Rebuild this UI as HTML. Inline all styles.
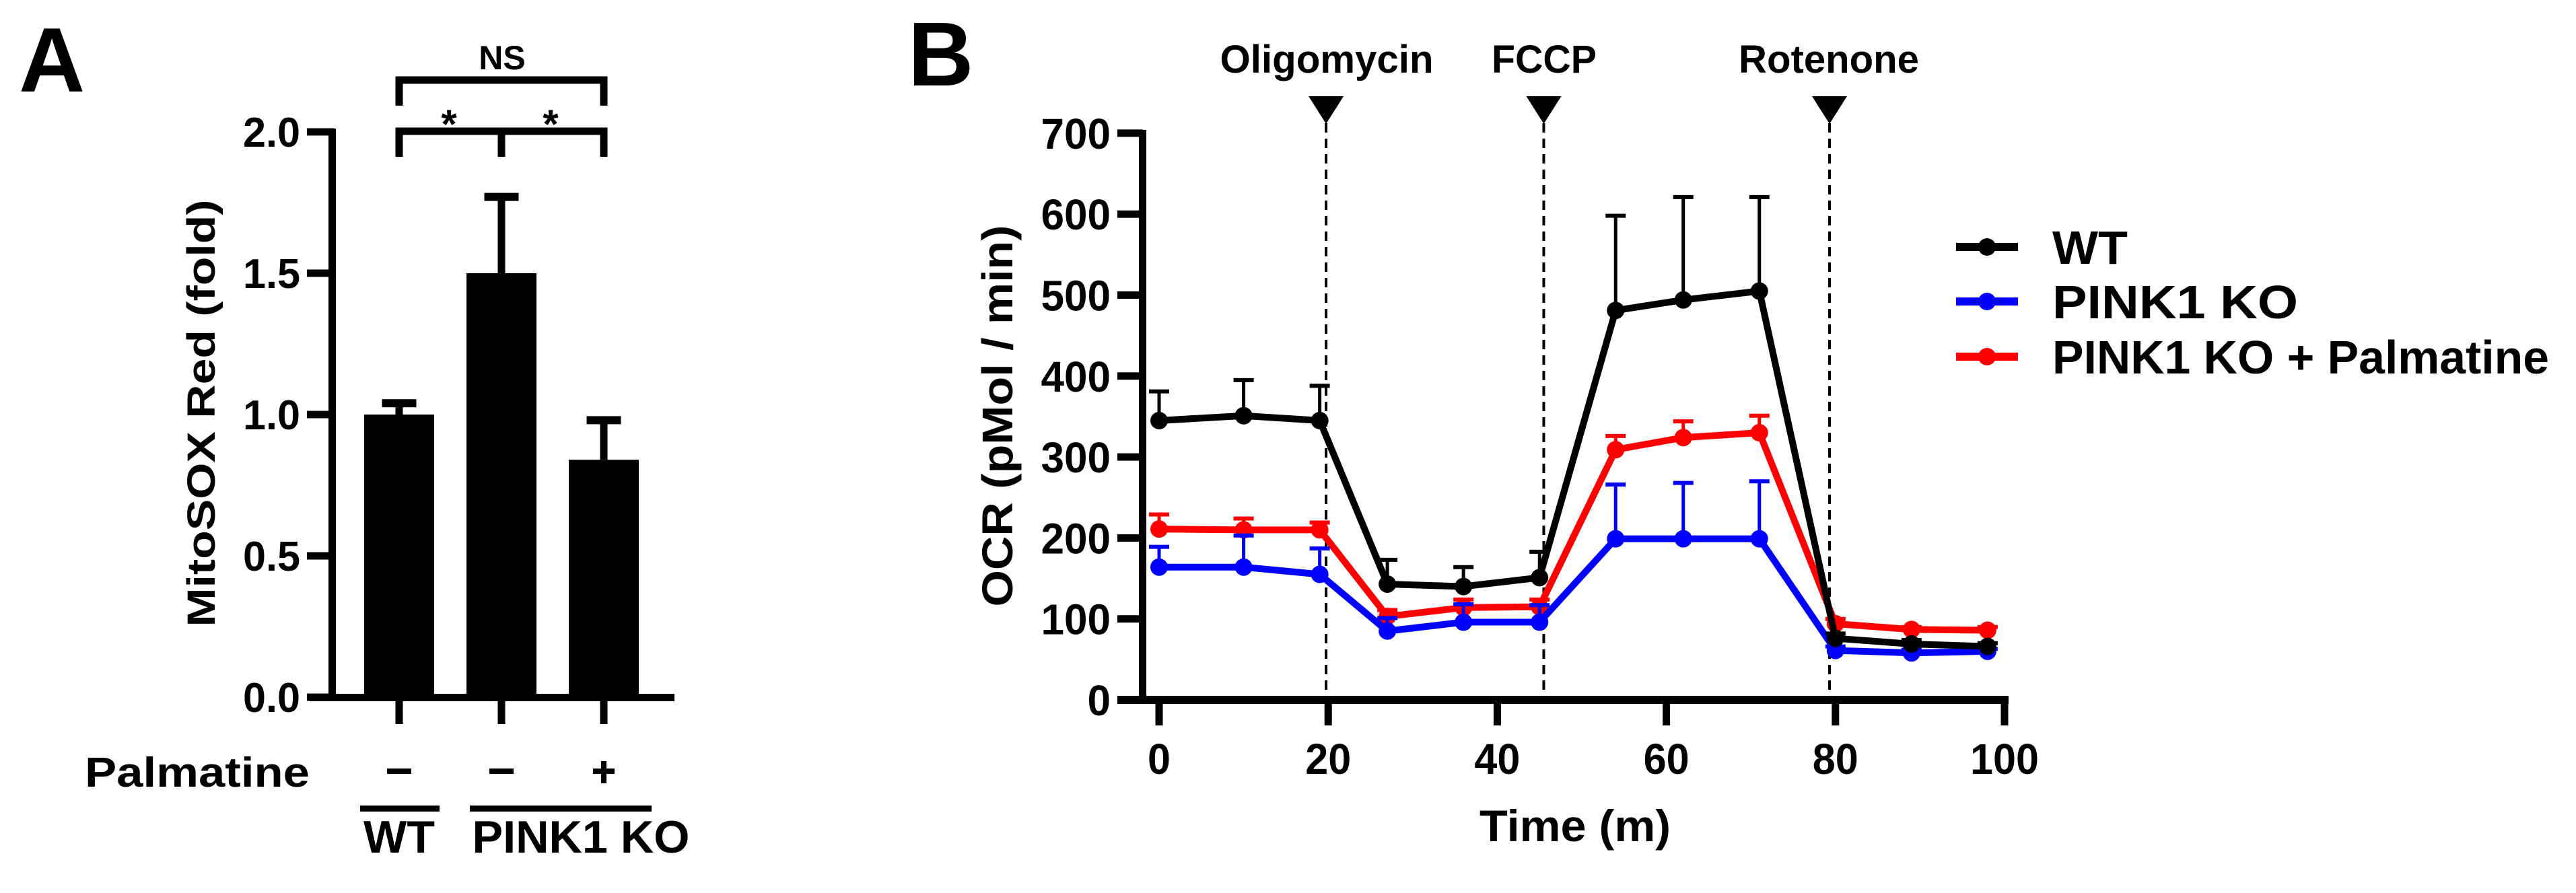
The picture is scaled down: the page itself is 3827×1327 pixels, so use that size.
<!DOCTYPE html>
<html><head><meta charset="utf-8"><style>
html,body{margin:0;padding:0;background:#fff;}
svg{display:block;}
text{font-family:"Liberation Sans",Arial,sans-serif;font-weight:bold;fill:#000;}
</style></head><body>
<svg id="fig" width="3827" height="1327" viewBox="0 0 3827 1327" xmlns="http://www.w3.org/2000/svg">
<g id="panelA"></g>
<g id="panelB"></g>
</svg>
<script>
// ---------- Panel A data ----------
const aCategories = ["WT", "PINK1 KO", "PINK1 KO + Palmatine"];
const aValues = [1.0, 1.5, 0.84];
const aErrors = [0.04, 0.27, 0.14];
const aTicks = [0, 0.5, 1.0, 1.5, 2.0];
const aTickLabels = ["0.0", "0.5", "1.0", "1.5", "2.0"];
const aPalmatine = ["–", "–", "+"];

// ---------- Panel B data ----------
const bTimes = [0, 10, 19, 27, 36, 45, 54, 62, 71, 80, 89, 98];
const wtMean = [345, 351, 345, 143, 140, 151, 481, 494, 505, 76, 69, 66];
const wtTop = [381, 395, 388, 173, 164, 183, 598, 621, 621, 82, 74, 70];
const koMean = [164, 164, 155, 85, 96, 96, 199, 199, 199, 61, 58, 60];
const koTop = [189, 203, 187, 101, 118, 117, 266, 268, 270, 66, 62, 63];
const palMean = [211, 210, 210, 103, 114, 115, 309, 324, 330, 94, 87, 86];
const palTop = [229, 224, 219, 111, 124, 124, 326, 344, 351, 100, 90, 90];
const bYTicks = [0, 100, 200, 300, 400, 500, 600, 700];
const bXTicks = [0, 20, 40, 60, 80, 100];
const injNames = ["Oligomycin", "FCCP", "Rotenone"];
const injTimes = [19.75, 45.5, 79.3];
const seriesNames = ["WT", "PINK1 KO", "PINK1 KO + Palmatine"];

const NS = "http://www.w3.org/2000/svg";
function el(parent, tag, attrs, txt){
  const e = document.createElementNS(NS, tag);
  for (const k in attrs) e.setAttribute(k, attrs[k]);
  if (txt !== undefined) e.textContent = txt;
  parent.appendChild(e);
  return e;
}

// ===== Panel A =====
const A = document.getElementById('panelA');
const ayScale = v => 1036 - v * 420;
const axPos = [593, 745, 897];
let t;
t = el(A, 'text', {x: 28, y: 136, 'font-size': 136});
t.textContent = 'A';



// y axis
let r = el(A, 'rect', {x: 488, y: 191, width: 11, height: 851});


// x axis
r = el(A, 'rect', {x: 460, y: 1031, width: 542, height: 11});



aTicks.forEach((v, i) => {
  const y = ayScale(v);
  const tk = el(A, 'rect', {x: 456, y: y - 5.5, width: 40, height: 11});
  
  
  const lb = el(A, 'text', {x: 446, y: y + 22, 'font-size': 62, 'text-anchor': 'end', textLength: 85, lengthAdjust: 'spacingAndGlyphs'}, aTickLabels[i]);
  
  
});

t = el(A, 'text', {x: 0, y: 0, 'font-size': 58, 'text-anchor': 'middle', textLength: 635, lengthAdjust: 'spacingAndGlyphs', transform: 'translate(319,614) rotate(-90)'}, 'MitoSOX Red (fold)');



aValues.forEach((v, i) => {
  const cx = axPos[i];
  const top = ayScale(v);
  const b = el(A, 'rect', {x: cx - 52, y: top, width: 104, height: 1036 - top});
  
  
  const et = ayScale(v + aErrors[i]);
  const w = el(A, 'rect', {x: cx - 5.5, y: et, width: 11, height: top - et});
  
  
  const c = el(A, 'rect', {x: cx - 25.5, y: et - 6, width: 51, height: 12});
  
  
  const xt = el(A, 'rect', {x: cx - 5.5, y: 1036, width: 11, height: 40});
  
  
  // palmatine signs
  if (aPalmatine[i] === '+') {
    const p1 = el(A, 'rect', {x: cx - 16, y: 1142, width: 32, height: 8});
    
    
    const p2 = el(A, 'rect', {x: cx - 4, y: 1131, width: 8, height: 33});
    
    
  } else {
    const m = el(A, 'rect', {x: cx - 18, y: 1142, width: 36, height: 8});
    
    
  }
});

t = el(A, 'text', {x: 126, y: 1169, 'font-size': 62, textLength: 334, lengthAdjust: 'spacingAndGlyphs'}, 'Palmatine');



r = el(A, 'rect', {x: 535, y: 1197, width: 118, height: 9});


r = el(A, 'rect', {x: 698, y: 1197, width: 270, height: 9});


t = el(A, 'text', {x: 593, y: 1267, 'font-size': 68, 'text-anchor': 'middle', textLength: 106, lengthAdjust: 'spacingAndGlyphs'}, 'WT');


t = el(A, 'text', {x: 863, y: 1267, 'font-size': 68, 'text-anchor': 'middle', textLength: 323, lengthAdjust: 'spacingAndGlyphs'}, 'PINK1 KO');



// significance brackets
function bracket(y, yb, xs, name){
  const g = el(A, 'g', {});
  
  
  el(g, 'rect', {x: xs[0] - 5.5, y: y - 5.5, width: xs[xs.length - 1] - xs[0] + 11, height: 11});
  xs.forEach(x => el(g, 'rect', {x: x - 5.5, y: y - 5.5, width: 11, height: yb - y + 5.5}));
}
bracket(119, 157, [axPos[0], axPos[2]], 'ns-bracket');
bracket(195, 233, axPos, 'star-bracket');
t = el(A, 'text', {x: 746, y: 103, 'font-size': 50, 'text-anchor': 'middle'}, 'NS');


[667, 818].forEach(x => {
  const s = el(A, 'text', {x: x, y: 205, 'font-size': 60, 'text-anchor': 'middle'}, '*');
  
  
});

// ===== Panel B =====
const B = document.getElementById('panelB');
const bx = tm => 1722 + tm * 12.56;
const by = v => 1040 - v * 1.203;

t = el(B, 'text', {x: 1349, y: 127, 'font-size': 135}, 'B');



r = el(B, 'rect', {x: 1692, y: 193, width: 11, height: 853});


r = el(B, 'rect', {x: 1660, y: 1034, width: 1324, height: 12});



bYTicks.forEach(v => {
  const y = by(v);
  const tk = el(B, 'rect', {x: 1660, y: y - 5.5, width: 38, height: 11});
  
  
  const lb = el(B, 'text', {x: 1650, y: y + 23, 'font-size': 64, 'text-anchor': 'end', textLength: (String(v).length * 34.5), lengthAdjust: 'spacingAndGlyphs'}, String(v));
  
  
});
bXTicks.forEach(v => {
  const x = bx(v);
  const tk = el(B, 'rect', {x: x - 5.5, y: 1040, width: 11, height: 38});
  
  
  const lb = el(B, 'text', {x: x, y: 1150, 'font-size': 64, 'text-anchor': 'middle', textLength: (String(v).length * 34), lengthAdjust: 'spacingAndGlyphs'}, String(v));
  
  
});

t = el(B, 'text', {x: 0, y: 0, 'font-size': 64, 'text-anchor': 'middle', textLength: 567, lengthAdjust: 'spacingAndGlyphs', transform: 'translate(1504,618) rotate(-90)'}, 'OCR (pMol / min)');


t = el(B, 'text', {x: 2340, y: 1250, 'font-size': 66, 'text-anchor': 'middle', textLength: 284, lengthAdjust: 'spacingAndGlyphs'}, 'Time (m)');



// injection markers
const injLabelX = [1971, 2294, 2717];
const injLabelW = [317, 156, 268];
injTimes.forEach((tm, i) => {
  const x = bx(tm);
  const dl = el(B, 'line', {x1: x, y1: 183, x2: x, y2: 1034, stroke: '#000', 'stroke-width': 4, 'stroke-dasharray': '14 9'});
  
  
  const tri = el(B, 'polygon', {points: (x - 26) + ',143 ' + (x + 26) + ',143 ' + x + ',184'});
  
  
  const lb = el(B, 'text', {x: injLabelX[i], y: 108, 'font-size': 58, 'text-anchor': 'middle', textLength: injLabelW[i], lengthAdjust: 'spacingAndGlyphs'}, injNames[i]);
  
  
});

function series(mean, top, color, name){
  const g = el(B, 'g', {});
  
  
  mean.forEach((v, i) => {
    const x = bx(bTimes[i]);
    const w = el(g, 'line', {x1: x, y1: by(v), x2: x, y2: by(top[i]), stroke: color, 'stroke-width': 5});
    
    
    const c = el(g, 'line', {x1: x - 15, y1: by(top[i]), x2: x + 15, y2: by(top[i]), stroke: color, 'stroke-width': 6});
    
    
  });
  const pts = mean.map((v, i) => bx(bTimes[i]) + ',' + by(v)).join(' ');
  const pl = el(g, 'polyline', {points: pts, fill: 'none', stroke: color, 'stroke-width': 10, 'stroke-linejoin': 'round'});
  
  
  mean.forEach((v, i) => {
    const m = el(g, 'circle', {cx: bx(bTimes[i]), cy: by(v), r: 13, fill: color});
    
    
  });
}
series(palMean, palTop, '#ff0000', 'series-pink1-ko-palmatine');
series(koMean, koTop, '#0000ff', 'series-pink1-ko');
series(wtMean, wtTop, '#000000', 'series-wt');

// legend
const legColors = ['#000000', '#0000ff', '#ff0000'];
const legY = [367, 448, 530];
const legW = [112, 365, 738];
seriesNames.forEach((nm, i) => {
  const g = el(B, 'g', {});
  
  
  el(g, 'rect', {x: 2906, y: legY[i] - 6, width: 92, height: 12, fill: legColors[i]});
  el(g, 'circle', {cx: 2952, cy: legY[i], r: 13, fill: legColors[i]});
  el(g, 'text', {x: 3049, y: legY[i] + 25, 'font-size': 70, textLength: legW[i], lengthAdjust: 'spacingAndGlyphs'}, nm);
});
</script>
</body></html>
